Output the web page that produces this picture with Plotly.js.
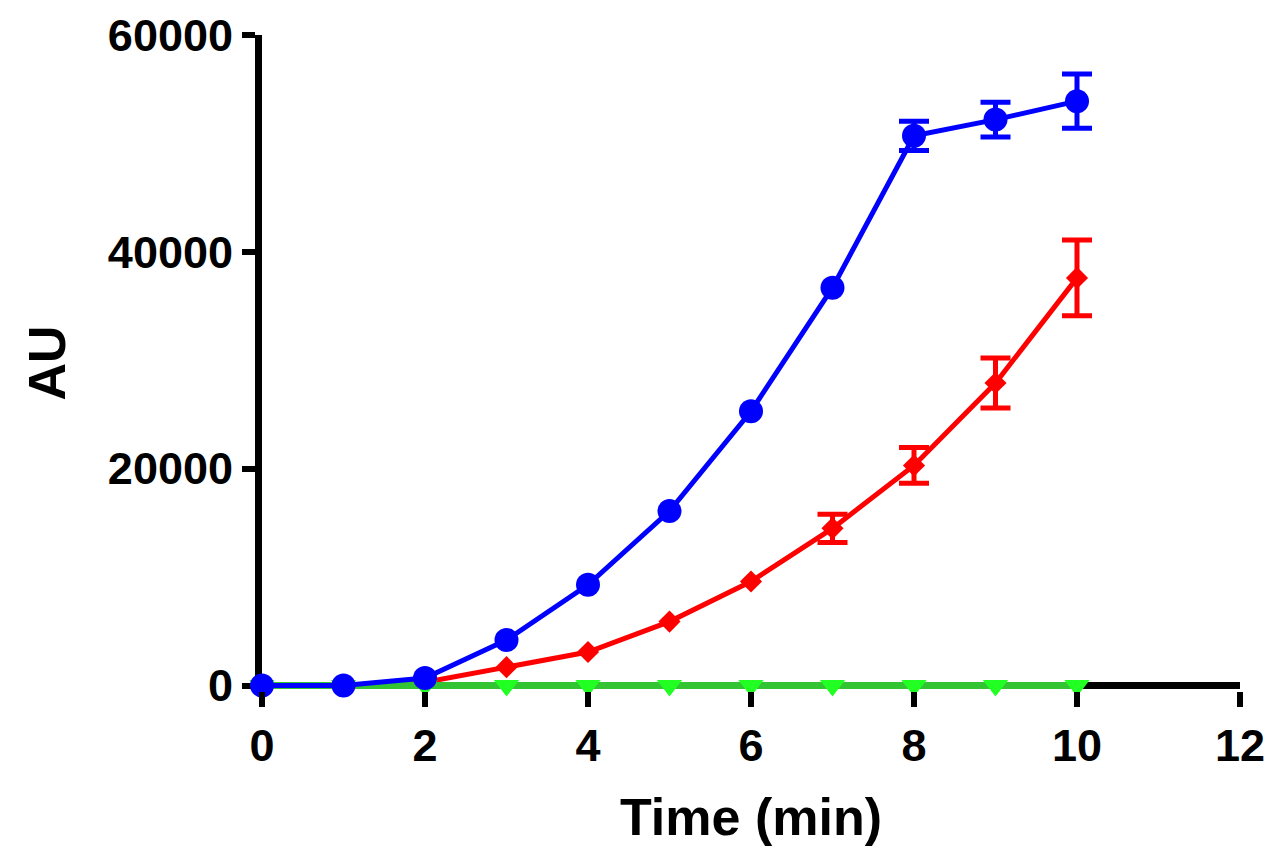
<!DOCTYPE html>
<html>
<head>
<meta charset="utf-8">
<script src="https://cdn.plot.ly/plotly-3.0.1.min.js"></script>
<style>
html,body{margin:0;padding:0;background:#fff;}
#chart{width:1267px;height:853px;}
</style>
</head>
<body>
<div id="chart"></div>
<script>
// Data
var timeMin = [0, 1, 2, 3, 4, 5, 6, 7, 8, 9, 10];
var blueValues = [0, 0, 700, 4200, 9300, 16100, 25300, 36700, 50700, 52200, 53900];
var blueErrors = [0, 0, 0, 0, 0, 0, 0, 0, 1350, 1600, 2500];
var redValues = [0, 0, 300, 1700, 3100, 5900, 9600, 14500, 20300, 27900, 37600];
var redErrors = [0, 0, 0, 0, 0, 0, 0, 1300, 1650, 2300, 3500];
var greenValues = [0, 0, 0, 0, 0, 0, 0, 0, 0, 0, 0];
var xTickVals = [0, 2, 4, 6, 8, 10, 12];
var yTickVals = [0, 20000, 40000, 60000];
var xTitle = 'Time (min)';
var yTitle = 'AU';

var FONT = 'Liberation Sans, Arial, Helvetica, sans-serif';

// error bars only where an error was visible in the reference
function errorTrace(xs, ys, errs, color) {
  var ix = [], iy = [], ie = [];
  for (var i = 0; i < xs.length; i++) {
    if (errs[i] > 0) { ix.push(xs[i]); iy.push(ys[i]); ie.push(errs[i]); }
  }
  return {
    x: ix, y: iy, type: 'scatter', mode: 'markers',
    marker: {size: 1, opacity: 0, color: color},
    error_y: {type: 'data', array: ie, visible: true, color: color, thickness: 5, width: 15},
    cliponaxis: false, hoverinfo: 'skip'
  };
}

var traces = [
  errorTrace(timeMin, redValues, redErrors, '#ff0000'),
  {
    x: timeMin, y: redValues, type: 'scatter', mode: 'lines+markers',
    line: {color: '#ff0000', width: 5},
    marker: {symbol: 'diamond', size: 17, color: '#ff0000'},
    cliponaxis: false
  },
  {
    x: timeMin, y: greenValues, type: 'scatter', mode: 'lines+markers',
    line: {color: '#33c433', width: 7},
    marker: {symbol: 'triangle-down', size: 22, color: '#22ff22'},
    cliponaxis: false
  },
  errorTrace(timeMin, blueValues, blueErrors, '#0000ff'),
  {
    x: timeMin, y: blueValues, type: 'scatter', mode: 'lines+markers',
    line: {color: '#0000ff', width: 5},
    marker: {symbol: 'circle', size: 24, color: '#0000ff'},
    cliponaxis: false
  }
];

var layout = {
  width: 1267, height: 853,
  margin: {l: 262, r: 27, t: 35, b: 162},
  paper_bgcolor: '#ffffff', plot_bgcolor: '#ffffff',
  showlegend: false,
  font: {family: FONT, color: '#000000'},
  xaxis: {
    range: [0, 12], tickvals: xTickVals, ticktext: xTickVals.map(String),
    showgrid: false, zeroline: false,
    showline: false,
    ticks: 'outside', ticklen: 15, tickwidth: 6, tickcolor: '#000000',
    tickfont: {family: FONT, size: 45, color: '#000000', weight: 'bold'},
    title: {text: '<b>' + xTitle + '</b>', font: {family: FONT, size: 52, color: '#000000'}, standoff: 28}
  },
  yaxis: {
    range: [-500, 60000], tickvals: yTickVals, ticktext: yTickVals.map(String),
    showgrid: false,
    zeroline: true, zerolinecolor: '#000000', zerolinewidth: 7,
    showline: true, linecolor: '#000000', linewidth: 7, layer: 'below traces',
    ticks: 'outside', ticklen: 13, tickwidth: 6, tickcolor: '#000000',
    tickfont: {family: FONT, size: 45, color: '#000000', weight: 'bold'},
    title: {text: '<b>' + yTitle + '</b>', font: {family: FONT, size: 52, color: '#000000'}, standoff: 28}
  }
};

Plotly.newPlot('chart', traces, layout, {staticPlot: true, displayModeBar: false});
</script>
</body>
</html>
